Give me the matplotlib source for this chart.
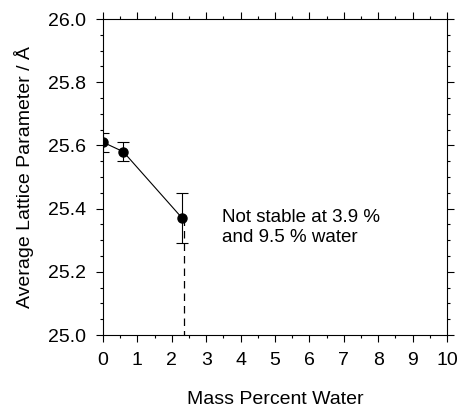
import matplotlib
matplotlib.use("Agg")
import matplotlib.pyplot as plt
from matplotlib.ticker import MultipleLocator, FormatStrFormatter

plt.rcParams['font.family'] = ['Liberation Sans', 'DejaVu Sans']

# data
water = [0.0, 0.59, 2.3]
lattice = [25.61, 25.58, 25.37]
err = [0.03, 0.03, 0.08]
drop_x = [2.35, 2.35]
drop_y = [25.37, 25.0]

fig = plt.figure(figsize=(4.58, 4.08), dpi=100)
ax = fig.add_axes([103/458, 1 - 335/408, 344/458, 316/408])

ax.errorbar(water, lattice, yerr=err, color='black', marker='o', markersize=6.5,
            lw=0.8, elinewidth=0.8, capsize=4, capthick=0.8)
ax.plot(drop_x, drop_y, color='black', lw=0.9, ls=(0, (6, 4)))

ax.text(3.45, 25.34, 'Not stable at 3.9 %\nand 9.5 % water', fontsize=13.5,
        va='center', ha='left', linespacing=1.25)

ax.set_xlim(0, 10)
ax.set_ylim(25.0, 26.0)
ax.xaxis.set_major_locator(MultipleLocator(1))
ax.xaxis.set_minor_locator(MultipleLocator(0.5))
ax.yaxis.set_major_locator(MultipleLocator(0.2))
ax.yaxis.set_minor_locator(MultipleLocator(0.05))
ax.yaxis.set_major_formatter(FormatStrFormatter('%.1f'))

ax.tick_params(which='both', direction='out', top=True, right=True, width=0.8,
               labelsize=14, pad=7)
ax.tick_params(which='major', length=5)
ax.tick_params(which='minor', length=2.5)
for s in ax.spines.values():
    s.set_linewidth(0.8)

ax.set_xlabel('Mass Percent Water', fontsize=14, labelpad=16)
ax.set_ylabel('Average Lattice Parameter / Å', fontsize=14, labelpad=10)

fig.savefig('out.png', dpi=100)
